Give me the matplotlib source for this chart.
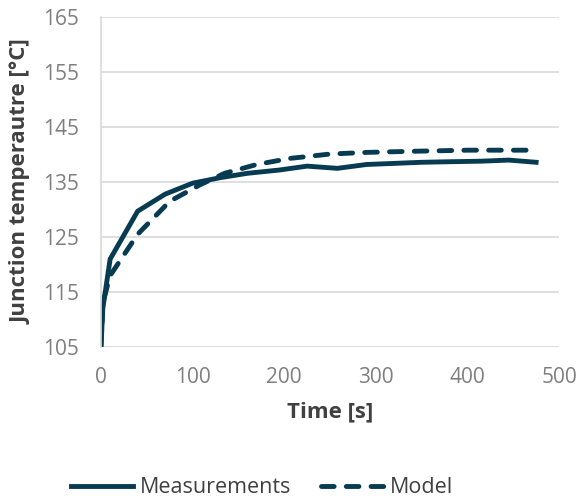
import matplotlib.pyplot as plt

plt.rcParams['font.family'] = ['Open Sans', 'DejaVu Sans']

# measured junction temperature
meas_t = [0, 2, 10, 40, 70, 100, 130, 160, 195, 225, 258, 290, 320, 350, 380, 415, 445, 475]
meas_T = [105, 112, 121.0, 129.7, 132.8, 134.8, 135.8, 136.6, 137.2, 137.9, 137.5, 138.2, 138.4, 138.6, 138.7, 138.8, 139.0, 138.6]

# model
model_t = [0, 2, 10, 40, 75, 108, 135, 170, 206, 250, 290, 340, 400, 472]
model_T = [105, 113, 118.0, 125.5, 131.5, 134.5, 136.6, 138.2, 139.3, 140.1, 140.4, 140.6, 140.8, 140.8]

color = "#073B52"
grid_c = "#D9D9D9"
tick_c = "#7F7F7F"
label_c = "#404040"

fig = plt.figure(figsize=(5.79, 5.03), dpi=100)
ax = fig.add_axes([0.1744, 0.310, 0.7911, 0.656])

ax.plot(meas_t, meas_T, color=color, lw=3.5, solid_joinstyle="miter", label="Measurements")
ax.plot(model_t, model_T, color=color, lw=3.5, ls=(0, (2.6, 2.5)), dash_capstyle="round",
        label="Model")

ax.set_xlim(0, 500)
ax.set_ylim(105, 165)
ax.set_xticks([0, 100, 200, 300, 400, 500])
ax.set_yticks([105, 115, 125, 135, 145, 155, 165])
ax.yaxis.grid(True, color=grid_c, lw=1.2)
ax.set_axisbelow(True)
for s in ["top", "right", "bottom"]:
    ax.spines[s].set_visible(False)
ax.spines["left"].set_color(grid_c)
ax.spines["left"].set_linewidth(1.2)
ax.tick_params(axis="y", length=0, labelsize=15, labelcolor=tick_c, pad=16)
ax.tick_params(axis="x", length=0, labelsize=15, labelcolor=tick_c, pad=14)

ax.set_xlabel("Time [s]", fontsize=16, fontweight="bold", color=label_c, labelpad=10)
ax.set_ylabel("Junction temperautre [°C]", fontsize=16, fontweight="bold", color=label_c,
              labelpad=8)

fig.legend(loc="center", bbox_to_anchor=(0.453, 0.030), ncol=2, frameon=False,
           fontsize=15.5, handlelength=2.9, handletextpad=0.3, columnspacing=1.4,
           labelcolor=label_c)

fig.savefig("out.png", dpi=100)
